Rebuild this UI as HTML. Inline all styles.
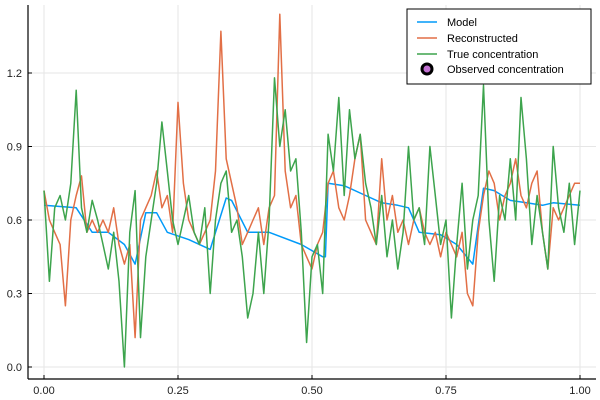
<!DOCTYPE html>
<html><head><meta charset="utf-8"><style>
body{margin:0;background:#fff;}
svg{display:block;font-family:"Liberation Sans",sans-serif;}
</style></head><body>
<svg id="chart" width="600" height="400">
<g id="grid"></g>
<g id="series"></g>
<g id="axes"></g>
<g>
<rect x="407" y="9" width="184" height="75" fill="#fff" stroke="#000" stroke-width="1"/>
<line x1="417" y1="22" x2="437" y2="22" stroke="#009af9" stroke-width="1.5"/>
<text x="447" y="26" font-size="11" fill="#000">Model</text>
<line x1="417" y1="38" x2="437" y2="38" stroke="#e26f46" stroke-width="1.5"/>
<text x="447" y="42" font-size="11" fill="#000">Reconstructed</text>
<line x1="417" y1="54" x2="437" y2="54" stroke="#3da44d" stroke-width="1.5"/>
<text x="447" y="58" font-size="11" fill="#000">True concentration</text>
<circle cx="427" cy="69" r="5" fill="#c271d2" stroke="#000" stroke-width="3"/>
<text x="447" y="73" font-size="11" fill="#000">Observed concentration</text>
</g>
</svg>
<script>
const xTicks=[0,0.25,0.5,0.75,1.0];
const xTickLabels=["0.00","0.25","0.50","0.75","1.00"];
const yTicks=[0,0.3,0.6,0.9,1.2];
const yTickLabels=["0.0","0.3","0.6","0.9","1.2"];
const modelX=[0,0.06,0.09,0.12,0.15,0.17,0.19,0.21,0.23,0.27,0.31,0.34,0.35,0.38,0.42,0.48,0.52,0.525,0.53,0.56,0.6,0.63,0.66,0.68,0.7,0.74,0.77,0.8,0.82,0.84,0.87,0.9,0.93,0.95,1.0];
const modelY=[0.66,0.65,0.55,0.55,0.5,0.42,0.63,0.63,0.55,0.52,0.48,0.69,0.68,0.55,0.55,0.5,0.45,0.45,0.75,0.74,0.7,0.67,0.66,0.65,0.55,0.54,0.5,0.42,0.73,0.72,0.68,0.67,0.66,0.67,0.66];
const reconY=[0.72,0.6,0.55,0.5,0.25,0.6,0.7,0.78,0.55,0.6,0.55,0.6,0.55,0.65,0.5,0.42,0.5,0.12,0.6,0.65,0.7,0.8,0.65,0.7,0.55,1.08,0.75,0.6,0.55,0.5,0.55,0.6,0.8,1.37,0.85,0.75,0.65,0.5,0.55,0.6,0.65,0.5,0.65,0.7,1.44,0.8,0.65,0.7,0.5,0.45,0.4,0.5,0.55,0.75,0.8,0.65,0.6,0.7,0.85,0.95,0.6,0.55,0.5,0.85,0.6,0.7,0.55,0.6,0.5,0.6,0.65,0.55,0.5,0.55,0.45,0.55,0.5,0.45,0.55,0.3,0.25,0.55,0.7,0.8,0.75,0.6,0.7,0.75,0.85,0.7,0.65,0.75,0.8,0.55,0.4,0.65,0.6,0.65,0.7,0.75,0.75];
const trueY=[0.72,0.35,0.65,0.7,0.6,0.75,1.13,0.65,0.55,0.68,0.6,0.5,0.4,0.55,0.35,0.0,0.55,0.72,0.12,0.45,0.6,0.75,1.0,0.8,0.6,0.5,0.6,0.7,0.55,0.5,0.65,0.3,0.6,0.75,0.8,0.55,0.6,0.45,0.2,0.3,0.55,0.3,0.6,1.18,0.9,1.05,0.8,0.85,0.55,0.1,0.45,0.5,0.3,0.95,0.8,1.1,0.7,1.05,0.85,0.95,0.75,0.65,0.5,0.7,0.45,0.6,0.4,0.55,0.9,0.6,0.65,0.5,0.9,0.7,0.5,0.6,0.2,0.5,0.75,0.4,0.6,0.7,1.15,0.6,0.35,0.7,0.6,0.85,0.6,1.1,0.85,0.5,0.7,0.55,0.4,0.9,0.65,0.55,0.75,0.5,0.72];

const NS="http://www.w3.org/2000/svg";
const X0=28,X1=596,Y0=5,Y1=379;
function sx(v){return 44+v*536;}
function sy(v){return 367-v*245;}
function mk(tag,attrs,parent){const e=document.createElementNS(NS,tag);for(const k in attrs)e.setAttribute(k,attrs[k]);parent.appendChild(e);return e;}
const grid=document.getElementById('grid'),axes=document.getElementById('axes'),ser=document.getElementById('series');
xTicks.forEach((t,i)=>{
 const g=mk('line',{x1:sx(t),x2:sx(t),y1:Y0,y2:Y1,stroke:'#e6e6e6','stroke-width':1},grid);
 
 
 const tk=mk('line',{x1:sx(t),x2:sx(t),y1:Y1,y2:Y1-4,stroke:'#000','stroke-width':1},axes);
 
 
 const l=mk('text',{x:sx(t),y:394,'font-size':11,'text-anchor':'middle',fill:'#222'},axes);
 l.textContent=xTickLabels[i];
 
 
});
yTicks.forEach((t,i)=>{
 const g=mk('line',{x1:X0,x2:X1,y1:sy(t),y2:sy(t),stroke:'#e6e6e6','stroke-width':1},grid);
 
 
 const tk=mk('line',{x1:X0,x2:X0+4,y1:sy(t),y2:sy(t),stroke:'#000','stroke-width':1},axes);
 
 
 const l=mk('text',{x:22,y:sy(t)+4,'font-size':11,'text-anchor':'end',fill:'#222'},axes);
 l.textContent=yTickLabels[i];
 
 
});
const ax1=mk('line',{x1:X0,x2:X0,y1:Y0,y2:Y1,stroke:'#000','stroke-width':1.2},axes);


const ax2=mk('line',{x1:X0,x2:X1,y1:Y1,y2:Y1,stroke:'#000','stroke-width':1.2},axes);


function line(xs,ys,color,name){
 const d=ys.map((v,i)=>(i?'L':'M')+sx(xs[i]).toFixed(1)+','+sy(v).toFixed(1)).join('');
 const p=mk('path',{d:d,fill:'none',stroke:color,'stroke-width':1.5,'stroke-linejoin':'round'},ser);
 
 
}
const stepX=reconY.map((_,i)=>i/(reconY.length-1));
const stepX2=trueY.map((_,i)=>i/(trueY.length-1));
line(modelX,modelY,'#009af9','model-line');
line(stepX,reconY,'#e26f46','reconstructed-line');
line(stepX2,trueY,'#3da44d','true-concentration-line');
</script>
</body></html>
